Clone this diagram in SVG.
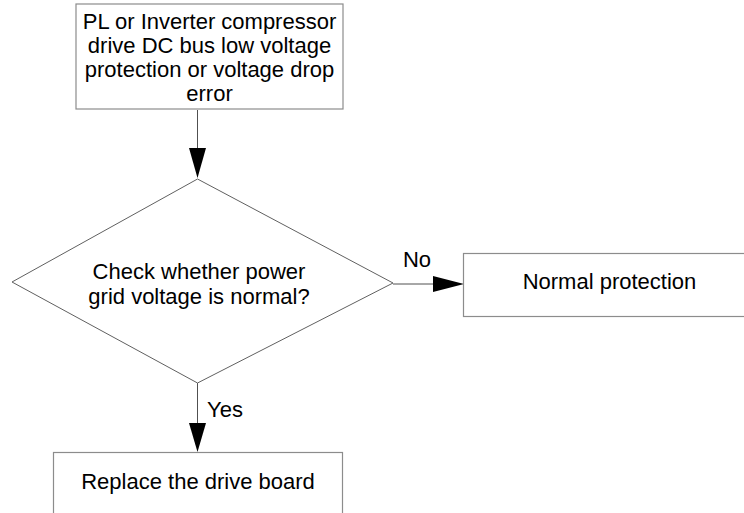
<svg xmlns="http://www.w3.org/2000/svg" width="744" height="513" viewBox="0 0 744 513">
<style>
.box{fill:#fff;stroke:#8c8c8c;stroke-width:1.2}
.dia{fill:#fff;stroke:#606060;stroke-width:1}
.ln{stroke:#505050;stroke-width:1;fill:none}
.ah{fill:#000}
text{font-family:"Liberation Sans",Arial,sans-serif;font-size:22px;fill:#000;text-anchor:middle}
</style>
<rect width="744" height="513" fill="#fff"/>
<g id="connectors">
<line class="ln" x1="197.5" y1="110" x2="197.5" y2="150"/>
<polygon class="ah" points="189,148 206,148 197.5,178"/>
<line class="ln" x1="393" y1="284" x2="435" y2="284"/>
<polygon class="ah" points="433,276 433,292 464,284"/>
<line class="ln" x1="197.5" y1="383" x2="197.5" y2="425"/>
<polygon class="ah" points="189,423 206,423 197.5,452"/>
<text x="417" y="267">No</text>
<text x="225" y="417">Yes</text>
</g>
<g id="start">
<rect class="box" x="76" y="4" width="267" height="105"/>
<text x="209.5" y="29">PL or Inverter compressor</text>
<text x="209.5" y="53">drive DC bus low voltage</text>
<text x="209.5" y="77">protection or voltage drop</text>
<text x="209.5" y="101">error</text>
</g>
<g id="decision">
<polygon class="dia" points="197.5,179 393,283 197.5,383 12,282"/>
<text x="199" y="279">Check whether power</text>
<text x="199" y="304">grid voltage is normal?</text>
</g>
<g id="normal">
<rect class="box" x="463.5" y="253.5" width="300" height="63"/>
<text x="609.5" y="289">Normal protection</text>
</g>
<g id="replace">
<rect class="box" x="53.5" y="452.5" width="289" height="80"/>
<text x="198" y="489">Replace the drive board</text>
</g>
</svg>
